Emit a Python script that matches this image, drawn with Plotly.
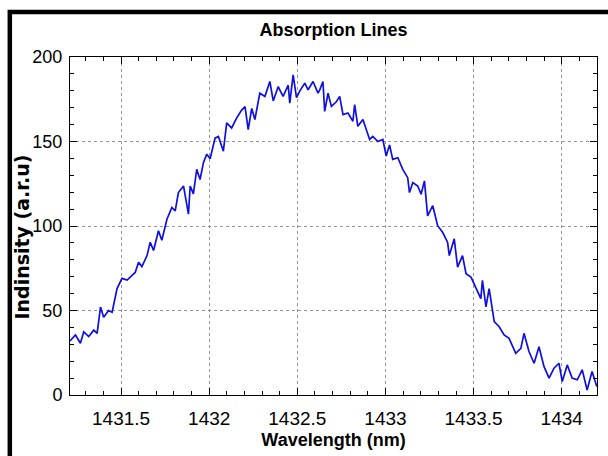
import plotly.graph_objects as go

wavelength_nm = [
    1431.210, 1431.241, 1431.269, 1431.288, 1431.316, 1431.345, 1431.364, 1431.383,
    1431.401, 1431.429, 1431.449, 1431.477, 1431.505, 1431.534, 1431.562, 1431.580,
    1431.599, 1431.618, 1431.647, 1431.665, 1431.684, 1431.712, 1431.731, 1431.760,
    1431.788, 1431.807, 1431.825, 1431.854, 1431.882, 1431.892, 1431.910, 1431.929,
    1431.948, 1431.967, 1431.986, 1432.005, 1432.033, 1432.052, 1432.080, 1432.099,
    1432.127, 1432.156, 1432.184, 1432.203, 1432.221, 1432.241, 1432.259, 1432.287,
    1432.316, 1432.344, 1432.363, 1432.391, 1432.419, 1432.448, 1432.457, 1432.476,
    1432.495, 1432.514, 1432.542, 1432.561, 1432.589, 1432.617, 1432.627, 1432.645,
    1432.655, 1432.674, 1432.693, 1432.721, 1432.740, 1432.759, 1432.787, 1432.815,
    1432.825, 1432.843, 1432.872, 1432.891, 1432.910, 1432.928, 1432.957, 1432.985,
    1433.004, 1433.023, 1433.041, 1433.070, 1433.098, 1433.126, 1433.136, 1433.155,
    1433.183, 1433.202, 1433.221, 1433.239, 1433.268, 1433.296, 1433.324, 1433.352,
    1433.362, 1433.390, 1433.409, 1433.437, 1433.457, 1433.485, 1433.513, 1433.541,
    1433.550, 1433.570, 1433.588, 1433.617, 1433.645, 1433.673, 1433.701, 1433.739,
    1433.768, 1433.786, 1433.814, 1433.843, 1433.871, 1433.899, 1433.928, 1433.956,
    1433.984, 1434.003, 1434.031, 1434.059, 1434.088, 1434.116, 1434.144, 1434.172,
    1434.199,
]

intensity = [
    32.0, 35.5, 30.6, 37.4, 34.6, 38.4, 36.5, 52.0,
    46.0, 50.0, 49.0, 63.0, 69.0, 68.0, 70.8, 72.5,
    78.6, 76.0, 82.5, 90.4, 85.5, 97.2, 91.6, 104.0,
    111.0, 109.0, 119.8, 123.7, 107.0, 123.7, 119.0, 133.5,
    127.5, 137.5, 142.5, 139.8, 152.0, 153.0, 144.3, 161.0,
    158.0, 164.0, 168.6, 170.6, 157.0, 169.6, 163.0, 178.6,
    176.7, 185.5, 174.0, 182.4, 176.7, 183.3, 172.7, 189.4,
    176.0, 180.0, 184.5, 180.6, 185.5, 178.6, 180.6, 185.5,
    167.8, 178.6, 170.8, 173.5, 176.7, 165.9, 166.9, 162.0,
    171.8, 159.0, 163.0, 157.0, 151.2, 153.0, 150.0, 151.2,
    141.4, 148.0, 139.4, 140.4, 133.5, 128.6, 119.8, 125.7,
    123.7, 118.8, 126.7, 106.0, 112.0, 100.2, 96.3, 90.4,
    82.5, 92.4, 75.7, 82.5, 71.8, 69.8, 63.0, 57.0,
    67.8, 52.2, 63.0, 43.4, 40.4, 35.5, 33.5, 24.7,
    27.6, 36.5, 25.7, 18.8, 28.6, 16.9, 10.0, 15.9,
    18.8, 8.0, 17.8, 10.0, 9.0, 14.9, 3.0, 13.9,
    5.0,
]

x_range = [1431.21, 1434.2]
y_range = [0, 200]
x_tickvals = [1431.5, 1432, 1432.5, 1433, 1433.5, 1434]
x_ticktext = ["1431.5", "1432", "1432.5", "1433", "1433.5", "1434"]
y_tickvals = [0, 50, 100, 150, 200]
y_ticktext = ["0", "50", "100", "150", "200"]

SANS = "Liberation Sans, Arial, sans-serif"

fig = go.Figure()
fig.add_trace(go.Scatter(
    x=wavelength_nm, y=intensity, mode="lines",
    line=dict(color="rgb(15,15,225)", width=1.7),
    showlegend=False, hoverinfo="skip",
))

axis_common = dict(
    showline=True, linecolor="black", linewidth=1, mirror="ticks",
    ticks="inside", ticklen=7, tickcolor="black", tickwidth=1,
    showgrid=True, gridcolor="rgb(150,150,150)", griddash="dot", gridwidth=1,
    zeroline=False,
)

fig.update_xaxes(
    range=x_range, tickmode="array", tickvals=x_tickvals, ticktext=x_ticktext,
    minor=dict(dtick=0.1, tick0=1431.5, ticks="inside", ticklen=4, tickcolor="black", showgrid=False),
    title=dict(text="Wavelength (nm)", font=dict(family=SANS, size=18, color="black", weight="bold"), standoff=5),
    tickfont=dict(family=SANS, size=19, color="black"),
    ticklabelstandoff=6,
    **axis_common,
)
fig.update_yaxes(
    range=y_range, tickmode="array", tickvals=y_tickvals, ticktext=y_ticktext,
    minor=dict(dtick=10, tick0=0, ticks="inside", ticklen=4, tickcolor="black", showgrid=False),
    tickfont=dict(family=SANS, size=18, color="black"),
    ticklabelstandoff=3,
    **axis_common,
)

fig.update_layout(
    width=608, height=456,
    margin=dict(l=70, r=10, t=57, b=59),
    paper_bgcolor="white", plot_bgcolor="white",
    title=dict(text="Absorption Lines", x=0.5, xref="paper", xanchor="center",
               y=1 - 30 / 456, yref="container", yanchor="middle",
               font=dict(family=SANS, size=18, color="black", weight="bold")),
    annotations=[
        dict(text="Indinsity (a.r.u)", textangle=-90, showarrow=False,
             xref="paper", yref="paper", x=(21.5 - 70) / 528, y=(397 - 238) / 340,
             xanchor="center", yanchor="middle",
             font=dict(family="DejaVu Sans", size=19, color="black", weight="bold")),
    ],
    shapes=[
        dict(type="rect", xref="paper", yref="paper",
             x0=(9.7 - 70) / 528, x1=1.2, y0=-0.5, y1=(397 - 11.7) / 340,
             line=dict(color="black", width=4.5), fillcolor="rgba(0,0,0,0)", layer="above"),
    ],
)

fig.write_html("out.html")
